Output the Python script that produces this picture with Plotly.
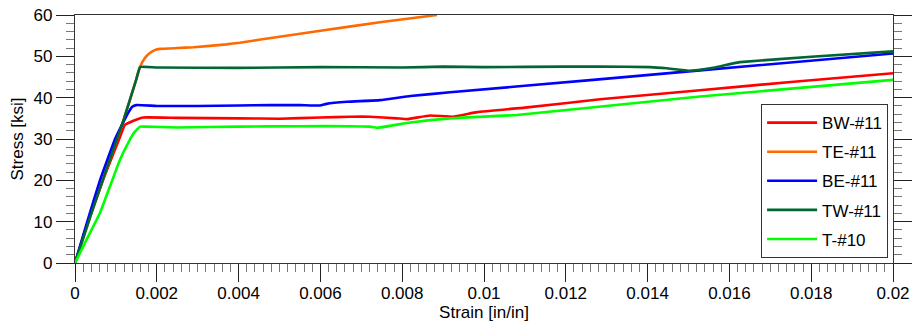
import plotly.graph_objects as go

# ---- data ----
bw_strain = [0, 0.0003, 0.0007, 0.0011, 0.00122, 0.00143, 0.00167, 0.0025, 0.004, 0.005, 0.006,
             0.00672, 0.00721, 0.00787, 0.00812, 0.00868, 0.00924, 0.00983, 0.011, 0.01284,
             0.01528, 0.0175, 0.02]
bw_stress = [0, 9.5, 20.5, 30.5, 33.4, 34.4, 35.2, 35.1, 35.0, 34.9, 35.2,
             35.4, 35.4, 35.0, 34.8, 35.7, 35.4, 36.5, 37.6, 39.6,
             41.8, 43.8, 45.9]

te_strain = [0, 0.0004, 0.0008, 0.0012, 0.00147, 0.00159, 0.0017, 0.00183, 0.00195, 0.00208,
             0.0025, 0.0029, 0.0037, 0.00403, 0.0045, 0.006, 0.0075, 0.00885]
te_stress = [0, 12.0, 23.5, 35.0, 43.5, 47.4, 49.5, 50.8, 51.5, 51.8,
             52.0, 52.2, 52.9, 53.3, 54.0, 56.2, 58.3, 60.0]

be_strain = [0, 0.0003, 0.00061, 0.00098, 0.00127, 0.0014, 0.0015, 0.002, 0.003, 0.004, 0.00477,
             0.0055, 0.00599, 0.00615, 0.00665, 0.00746, 0.0082, 0.00917, 0.01267, 0.01528, 0.02]
be_stress = [0, 10, 20, 30, 35.8, 37.8, 38.2, 38.0, 38.0, 38.1, 38.2,
             38.2, 38.1, 38.5, 39.0, 39.4, 40.4, 41.3, 44.3, 46.6, 50.7]

tw_strain = [0, 0.0004, 0.0008, 0.0012, 0.0015, 0.00159, 0.002, 0.004, 0.006, 0.008, 0.009,
             0.01, 0.012, 0.01284, 0.01406, 0.01447, 0.01504, 0.01553, 0.01609, 0.01626,
             0.018, 0.02]
tw_stress = [0, 12, 23.5, 35, 44.5, 47.4, 47.3, 47.2, 47.4, 47.3, 47.5,
             47.4, 47.5, 47.5, 47.4, 47.1, 46.5, 47.1, 48.3, 48.6,
             49.9, 51.2]

t10_strain = [0, 0.0003, 0.00061, 0.0011, 0.00134, 0.00145, 0.00159, 0.0017, 0.0025, 0.004,
              0.0055, 0.00672, 0.00721, 0.00738, 0.0082, 0.00917, 0.0108, 0.01528, 0.02]
t10_stress = [0, 6, 12.1, 25, 29.8, 31.6, 33.0, 33.0, 32.8, 33.0,
              33.1, 33.1, 33.0, 32.7, 34.0, 35.0, 35.8, 40.3, 44.3]

series_names = ["BW-#11", "TE-#11", "BE-#11", "TW-#11", "T-#10"]
series_colors = ["#ff0000", "#ff6a00", "#0000ff", "#006633", "#00ff00"]

x_tick_vals = [0, 0.002, 0.004, 0.006, 0.008, 0.01, 0.012, 0.014, 0.016, 0.018, 0.02]
x_tick_text = ["0", "0.002", "0.004", "0.006", "0.008", "0.01", "0.012", "0.014", "0.016", "0.018", "0.02"]
y_tick_vals = [0, 10, 20, 30, 40, 50, 60]

data = [(bw_strain, bw_stress), (te_strain, te_stress), (be_strain, be_stress),
        (tw_strain, tw_stress), (t10_strain, t10_stress)]

fig = go.Figure()
for (xs, ys), name, color in zip(data, series_names, series_colors):
    fig.add_trace(go.Scatter(x=xs, y=ys, mode="lines", name=name, legendgroup=name,
                             line=dict(color=color, width=2.6, shape="spline", smoothing=0.3)))

font_family = "Liberation Sans, Arial, sans-serif"
fig.update_layout(
    width=914, height=327,
    margin=dict(l=75, r=21, t=15, b=64, autoexpand=False),
    paper_bgcolor="white", plot_bgcolor="white",
    font=dict(family=font_family, size=17, color="black"),
    showlegend=True,
    legend=dict(x=0.994, y=0.02, xanchor="right", yanchor="bottom",
                bgcolor="white", bordercolor="#333", borderwidth=1,
                itemwidth=50,
                font=dict(size=17, color="black"), tracegroupgap=4),
)
fig.update_xaxes(
    range=[0, 0.02], tickvals=x_tick_vals, ticktext=x_tick_text,
    automargin=False, ticklabeloverflow="allow", ticklabelstandoff=-4,
    showgrid=False, zeroline=False,
    showline=True, linecolor="#333", linewidth=1.3, mirror=True,
    ticks="outside", ticklen=18, tickwidth=1, tickcolor="#222",
    minor=dict(dtick=0.0002, ticks="outside", ticklen=8, tickwidth=1, tickcolor="#777", showgrid=False),
    title=dict(text="Strain [in/in]", standoff=0, font=dict(size=17)),
    tickfont=dict(size=17),
)
fig.update_yaxes(
    range=[0, 60], tickvals=y_tick_vals,
    automargin=False, ticklabeloverflow="allow",
    showgrid=False, zeroline=False,
    showline=True, linecolor="#333", linewidth=1.3, mirror="ticks",
    ticks="outside", ticklen=18, tickwidth=1, tickcolor="#222",
    minor=dict(dtick=2, ticks="outside", ticklen=8, tickwidth=1, tickcolor="#777", showgrid=False),
    title=dict(text="Stress [ksi]", standoff=5, font=dict(size=17)),
    tickfont=dict(size=17),
)

fig.write_html("out.html", config={"displayModeBar": False},
               post_script="document.body.style.margin='0';document.body.style.overflow='hidden';")
